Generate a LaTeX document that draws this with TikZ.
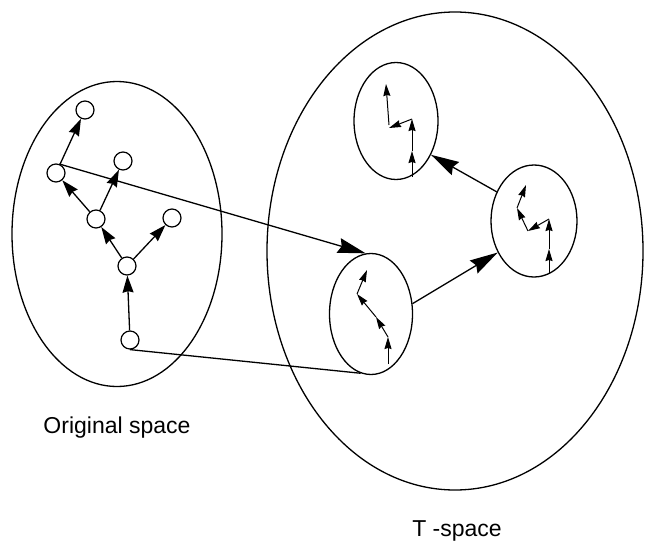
\documentclass[tikz,border=0pt]{standalone}
\usepackage{fontspec}
\setmainfont{Liberation Sans}
\usetikzlibrary{arrows.meta,shapes.geometric}
\begin{document}
\begin{tikzpicture}[x=1pt,y=-1pt,
  vtx/.style={circle,draw,line width=1.2pt,minimum size=18pt,inner sep=0pt},
  region/.style={ellipse,draw,line width=1.3pt,inner sep=0pt},
  treearr/.style={line width=1.3pt,-{Stealth[length=17pt,width=11pt,inset=1.5pt]}},
  bigarr/.style={line width=1.3pt,-{Stealth[length=28pt,width=15pt,inset=3pt]}},
  plainline/.style={line width=1.3pt},
  smallarr/.style={line width=1pt,-{Stealth[length=12pt,width=7pt,inset=1pt]}},
  lbl/.style={font=\fontsize{23}{27}\selectfont,anchor=base,inner sep=0pt}]
\useasboundingbox (0,0) rectangle (645,541);

% regions
\node[region,minimum width=210pt,minimum height=305pt] (orig) at (117,234) {};
\node[region,minimum width=376pt,minimum height=478pt] (tsp) at (455,251) {};
\node[region,minimum width=83pt,minimum height=121pt] (T1) at (371,314) {};
\node[region,minimum width=86pt,minimum height=112pt] (T2) at (534,221) {};
\node[region,minimum width=84pt,minimum height=117pt] (T3) at (396,121) {};

% tree in original space
\node[vtx] (n1) at (85,110) {};
\node[vtx] (n2) at (56,173) {};
\node[vtx] (n3) at (123,161) {};
\node[vtx] (n4) at (96,219) {};
\node[vtx] (n5) at (172,218) {};
\node[vtx] (n6) at (127,266) {};
\node[vtx] (n7) at (130,340) {};

\draw[treearr] (n7) -- (n6);
\draw[treearr] (n6) -- (n4);
\draw[treearr] (n6) -- (n5);
\draw[treearr] (n4) -- (n2);
\draw[treearr] (n4) -- (n3);
\draw[treearr] (n2) -- (n1);

% mapping lines
\draw[bigarr] (n2.70) -- (T1.95);
\draw[plainline] (n7.south) -- (T1.-100);

% arrows between T-space regions
\draw[bigarr] (T1.14) -- (T2.221);
\draw[bigarr] (T2.142) -- (T3.-44);

% trajectory in T1
\coordinate (a0) at (388,364);
\coordinate (a1) at (388,337);
\coordinate (a2) at (376,317);
\coordinate (a3) at (357,294);
\coordinate (a4) at (367,270);
\draw[smallarr] (a0) -- (a1);
\draw[smallarr] (a1) -- (a2);
\draw[smallarr] (a2) -- (a3);
\draw[smallarr] (a3) -- (a4);

% trajectory in T2
\coordinate (b0) at (549,273);
\coordinate (b1) at (549,249);
\coordinate (b2) at (549,219);
\coordinate (b3) at (528,231);
\coordinate (b4) at (517,208);
\coordinate (b5) at (526,185);
\draw[smallarr] (b0) -- (b1);
\draw[smallarr] (b1) -- (b2);
\draw[smallarr] (b2) -- (b3);
\draw[smallarr] (b3) -- (b4);
\draw[smallarr] (b4) -- (b5);

% trajectory in T3
\coordinate (c0) at (412,177);
\coordinate (c1) at (412,151);
\coordinate (c2) at (412,119);
\coordinate (c3) at (389,128);
\coordinate (c4) at (386,84);
\draw[smallarr] (c0) -- (c1);
\draw[smallarr] (c1) -- (c2);
\draw[smallarr] (c2) -- (c3);
\draw[smallarr] ([yshift=3pt]c3) -- (c4);

% labels
\node[lbl] (lorig) at (117,433) {Original space};
\node[lbl] (ltsp) at (457,536) {T -space};
\end{tikzpicture}
\end{document}
